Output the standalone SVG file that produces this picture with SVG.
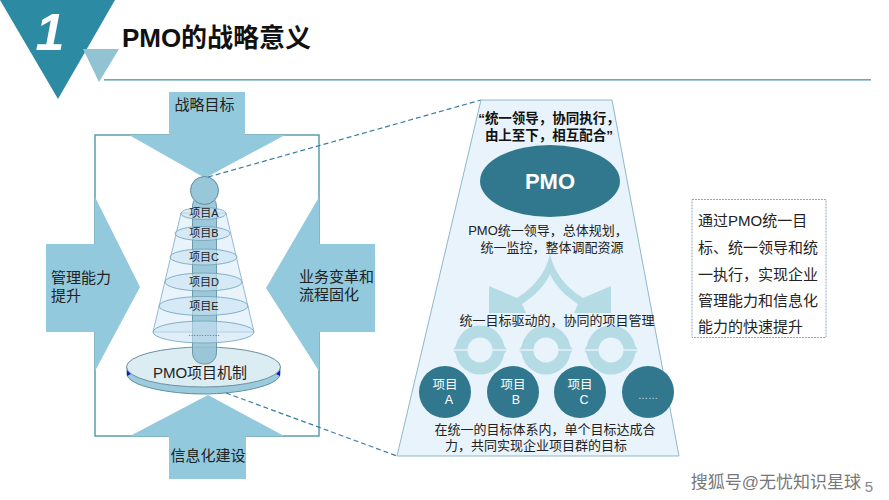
<svg xmlns="http://www.w3.org/2000/svg" width="889" height="500" viewBox="0 0 889 500">
<style>
text{font-family:"Liberation Sans","Noto Sans CJK SC",sans-serif;fill:#222;text-anchor:middle}
.a{fill:#92c9dc}
.d{fill:none;stroke:#3a7ca5;stroke-width:1.2;stroke-dasharray:5 3}
.e{fill:#c9e3f3;fill-opacity:.6;stroke:#6d9fb8;stroke-width:.8}
.c{fill:#31788f}
.l{fill:#b5dbe5}
.t{font-size:13px}
.p{font-size:11px}
.m{font-size:15px}
.s{text-anchor:start}
.w{font-size:12.500px;fill:#fff}
</style>
<defs>
<g id="ring">
<circle r="24.500"/>
<polygon points="-27,0 -12,-21 -12,21"/>
<polygon points="27,0 12,-21 12,21"/>
<circle r="12.500" fill="#e8f3fb"/>
<rect x="-30" y="-.7" width="60" height="1.400" fill="#e8f3fb"/>
</g>
</defs>
<rect width="889" height="500" fill="#fff"/>
<g id="header">
<polygon points="0,0 115,0 58,99" fill="#2d8aa3"/>
<polygon points="83,49 119,49 99,82" fill="#92c3d2"/>
<rect x="104" y="79" width="767" height="1.600" fill="#6aa9b5"/>
<text x="50" y="50" style="font-size:52px;font-weight:bold;font-style:italic;fill:#fff">1</text>
<text x="216.500" y="47" style="font-size:26px;font-weight:bold;fill:#111">PMO的战略意义</text>
</g>
<g id="frame"><rect x="95" y="135" width="224" height="301" fill="none" stroke="#5b9eaa" stroke-width="1.500"/></g>
<g id="arrow-top"><polygon class="a" points="169,92 245,92 245,135 285,135 205,178 129,135 169,135"/><text x="204.500" y="110" class="m">战略目标</text></g>
<g id="arrow-bottom"><polygon class="a" points="169,479 246,479 246,436 284,436 208,395 130,436 169,436"/><text x="208" y="461" class="m">信息化建设</text></g>
<g id="arrow-left"><polygon class="a" points="46,244 95,244 95,197 140,287 95,371 95,332 46,332"/><text x="51" y="283" class="m s">管理能力</text><text x="51" y="301" class="m s">提升</text></g>
<g id="arrow-right"><polygon class="a" points="375,244 319,244 319,197 266,288 319,371 319,332 375,332"/><text x="299" y="282" class="m s">业务变革和</text><text x="299" y="300" class="m s">流程固化</text></g>
<g id="pmo-disc">
<path d="M127 367V374C127 386 170 394 203.500 394S280 386 280 374V367Z" fill="#9bcbdc" stroke="#5b8fa0"/>
<polygon points="127,367 131,374 127,376" fill="#1a1ac0"/><polygon points="280,367 276,374 280,376" fill="#1a1ac0"/>
<ellipse cx="203.500" cy="367" rx="77" ry="20" fill="#dcecf3" stroke="#6d8f9f"/>
</g>
<g id="cone">
<polygon points="181,213 226,213 254,332 153,332" fill="#d8ebf8" fill-opacity=".6" stroke="#7daac4" stroke-width=".8"/>
<rect x="192.500" y="195" width="24" height="169" rx="11" fill="#8fc0d2" fill-opacity=".85" stroke="#6b9aaa"/>
<circle cx="204.500" cy="190.500" r="14" fill="#97c7d9" stroke="#5f8b9c"/>
<ellipse class="e" cx="203.500" cy="213.500" rx="22.500" ry="6"/>
<ellipse class="e" cx="202.500" cy="233.500" rx="27.500" ry="7"/>
<ellipse class="e" cx="203.500" cy="257" rx="33.500" ry="8"/>
<ellipse class="e" cx="203.500" cy="282" rx="38.500" ry="9"/>
<ellipse class="e" cx="203.500" cy="306" rx="44.500" ry="9.500"/>
<ellipse class="e" cx="203.500" cy="332" rx="50.500" ry="11"/>
<text x="204" y="217" class="p">项目A</text><text x="204" y="237" class="p">项目B</text><text x="204" y="261" class="p">项目C</text><text x="204" y="286" class="p">项目D</text><text x="204" y="310" class="p">项目E</text>
<text x="204" y="336" style="font-size:8px">…………</text>
<text x="200" y="377.500" style="font-size:15px">PMO项目机制</text>
</g>
<g id="connectors"><line class="d" x1="208" y1="177" x2="481" y2="100"/><line class="d" x1="226" y1="393" x2="397" y2="456"/></g>
<g id="panel">
<polygon points="481,100 612,100 679,456 397,456" fill="#e8f3fb" stroke="#8fb8c8"/>
<text x="549" y="123" style="font-size:13.500px;font-weight:bold;fill:#111">“统一领导，协同执行，</text>
<text x="549" y="140" style="font-size:13.500px;font-weight:bold;fill:#111">由上至下，相互配合”</text>
<g id="pmo"><ellipse class="c" cx="550" cy="181" rx="70" ry="36"/><text x="550" y="189" style="font-size:22px;font-weight:bold;fill:#fff">PMO</text></g>
<text x="548" y="235" class="t">PMO统一领导，总体规划，</text><text x="552" y="252" class="t">统一监控，整体调配资源</text>
<path class="l" d="M550 253C547 272 533 288 517 298L489 286V313H526L522 304C535 296 546 284 550 274 554 284 565 296 578 304L574 313H611V286L583 298C567 288 553 272 550 253Z"/>
<g class="l">
<use href="#ring" x="480" y="350"/>
<use href="#ring" x="546" y="350"/>
<use href="#ring" x="611" y="350"/>
</g>
<text x="557" y="325" class="t">统一目标驱动的，协同的项目管理</text>
<g id="project-a"><circle class="c" cx="445" cy="392" r="26"/><text x="445" y="389" class="w">项目</text><text x="449" y="404" class="w">A</text></g>
<g id="project-b"><circle class="c" cx="513" cy="392" r="26"/><text x="513" y="389" class="w">项目</text><text x="516" y="404" class="w">B</text></g>
<g id="project-c"><circle class="c" cx="580" cy="392" r="26"/><text x="580" y="389" class="w">项目</text><text x="584" y="404" class="w">C</text></g>
<g id="project-more"><circle class="c" cx="648" cy="392" r="26"/><text x="648" y="399" style="font-size:10px;fill:#cde">……</text></g>
<text x="545" y="434" class="t">在统一的目标体系内，单个目标达成合</text><text x="536" y="450" class="t">力，共同实现企业项目群的目标</text>
</g>
<g id="note">
<rect x="692" y="199.500" width="134" height="138" fill="#fff" stroke="#8fa8c0" stroke-dasharray="2 1"/>
<g style="font-size:15px">
<text x="698" y="226" class="s">通过PMO统一目</text>
<text x="698" y="253" class="s">标、统一领导和统</text>
<text x="698" y="280" class="s">一执行，实现企业</text>
<text x="698" y="306" class="s">管理能力和信息化</text>
<text x="698" y="332" class="s">能力的快速提升</text>
</g>
</g>
<text x="776" y="488" style="font-size:17px;fill:#777">搜狐号@无忧知识星球</text>
<text x="869" y="492" style="font-size:15px;fill:#888">5</text>
</svg>
